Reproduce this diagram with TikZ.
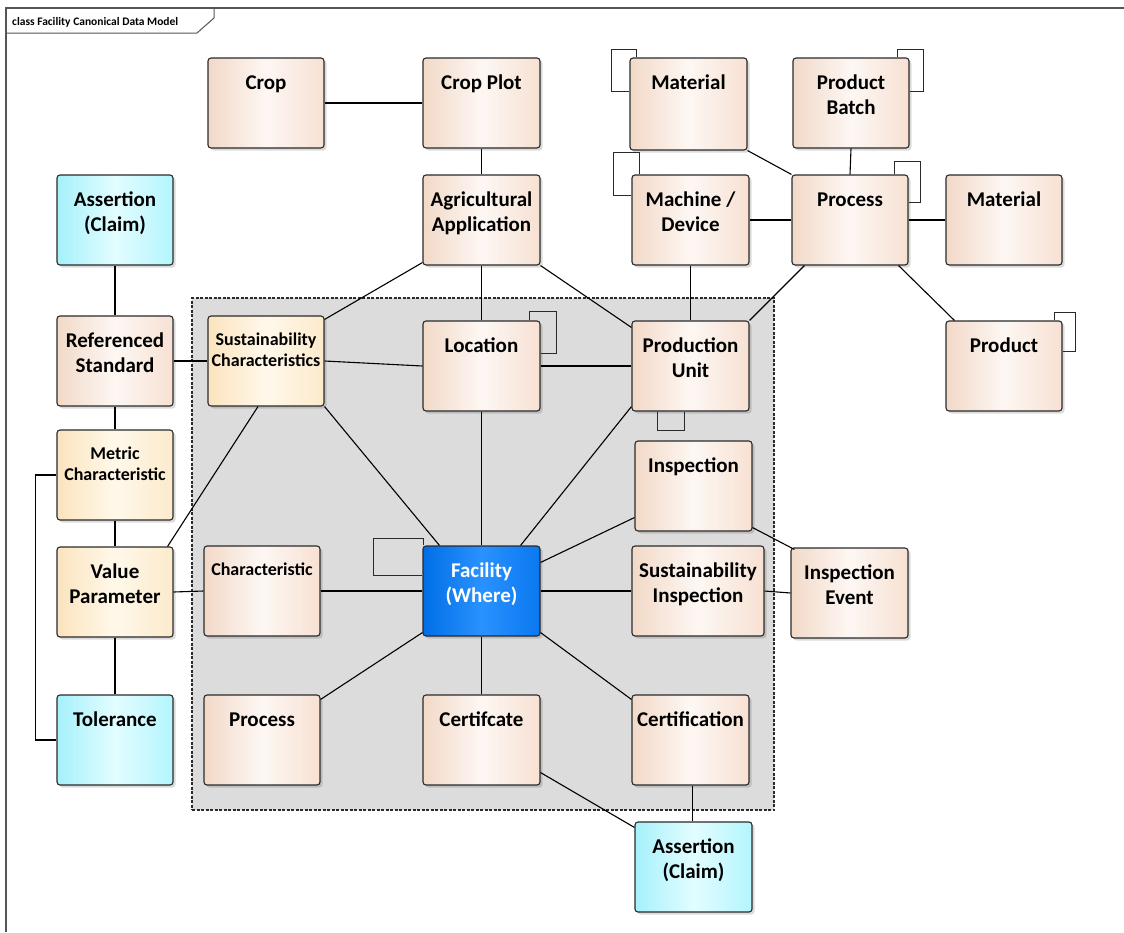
\documentclass[tikz,border=0pt]{standalone}
\usepackage{fontspec}
\setmainfont{Carlito}
\usetikzlibrary{shadows,calc}

\definecolor{peachA}{HTML}{F2D9C8}
\definecolor{peachB}{HTML}{F7E1D3}
\definecolor{peachM}{HTML}{FDF7F3}
\definecolor{cyanA}{HTML}{A6F1FB}
\definecolor{cyanB}{HTML}{B4F5FE}
\definecolor{cyanM}{HTML}{E2FDFF}
\definecolor{yelA}{HTML}{FBE4BE}
\definecolor{yelB}{HTML}{FCEACB}
\definecolor{yelM}{HTML}{FFF8EA}
\definecolor{blueA}{HTML}{006EE6}
\definecolor{blueB}{HTML}{0A78F0}
\definecolor{blueM}{HTML}{2A92FF}
\definecolor{grpfill}{HTML}{DCDCDC}
\definecolor{edgec}{HTML}{2A2A2A}
\definecolor{framec}{HTML}{555555}

\tikzset{
  umlbase/.style={draw=edgec, line width=1.1pt, rounded corners=3pt, inner sep=0pt,
    drop shadow={shadow xshift=2.5pt, shadow yshift=-2.5pt, fill=black, opacity=0.14}},
  peach/.style={umlbase, left color=peachA, right color=peachB, middle color=peachM},
  cyanbox/.style={umlbase, left color=cyanA, right color=cyanB, middle color=cyanM},
  yelbox/.style={umlbase, left color=yelA, right color=yelB, middle color=yelM},
  bluebox/.style={umlbase, left color=blueA, right color=blueB, middle color=blueM},
  bigl/.style={font=\bfseries\fontsize{21}{25}\selectfont, align=center, text=black,
    inner sep=0pt, anchor=north, yshift=-17pt},
  bigw/.style={bigl, text=white},
  smalll/.style={font=\bfseries\fontsize{18}{21}\selectfont, align=center, text=black,
    inner sep=0pt, anchor=north, yshift=-15pt},
  conn/.style={draw=black, line width=1.1pt},
  loopline/.style={draw=edgec, line width=1.1pt},
}

\newcommand\umlbox[8]{%
  \node[#6, minimum width={(#4)-(#2)}, minimum height={(#5)-(#3)},
    label={[#7, name=#1-txt]north:\rule{0pt}{15pt}#8}] (#1) at ({((#2)+(#4))/2},{((#3)+(#5))/2}) {};}

\begin{document}
\begin{tikzpicture}[x=1pt, y=-1pt]
\useasboundingbox (0,0) rectangle (1124,932);
\fill[white] (0,0) rectangle (1124,932);

% frame
\draw[framec, line width=1.3pt] (6,932) -- (6,8) -- (1124,8);
\draw[framec, line width=1pt] (6,33) -- (197,33) -- (214,18) -- (214,8);
\node[anchor=base west, inner sep=0pt, font=\bfseries\fontsize{11.5}{13}\selectfont] (title) at (12,25) {class Facility Canonical Data Model};

% group
\node[draw=edgec, fill=grpfill, line width=1.1pt, dash pattern=on 3pt off 1.5pt,
  minimum width=582pt, minimum height=512pt, inner sep=0pt] (grp) at (483,554) {};

% boxes
\umlbox{crop}{208}{58}{324}{148}{peach}{bigl}{Crop}
\umlbox{cplot}{423}{58}{540}{148}{peach}{bigl}{Crop Plot}
\umlbox{mat1}{630}{58}{747}{150}{peach}{bigl}{Material}
\umlbox{pb}{793}{58}{909}{148}{peach}{bigl}{Product\\Batch}
\umlbox{asr1}{57}{175}{173}{265}{cyanbox}{bigl}{Assertion\\(Claim)}
\umlbox{agri}{423}{175}{540}{265}{peach}{bigl}{Agricultural\\Application}
\umlbox{mach}{632}{175}{749}{265}{peach}{bigl}{Machine /\\Device}
\umlbox{proc}{792}{175}{908}{265}{peach}{bigl}{Process}
\umlbox{mat2}{946}{175}{1062}{265}{peach}{bigl}{Material}
\umlbox{ref}{57}{316}{173}{406}{peach}{bigl}{Referenced\\Standard}
\umlbox{sc}{208}{316}{324}{406}{yelbox}{smalll}{Sustainability\\Characteristics}
\umlbox{loc}{423}{321}{540}{411}{peach}{bigl}{Location}
\umlbox{pu}{632}{321}{749}{411}{peach}{bigl}{Production\\Unit}
\umlbox{prod}{946}{321}{1062}{411}{peach}{bigl}{Product}
\umlbox{met}{57}{430}{173}{520}{yelbox}{smalll}{Metric\\Characteristic}
\umlbox{insp}{635}{441}{752}{531}{peach}{bigl}{Inspection}
\umlbox{vp}{57}{547}{173}{637}{yelbox}{bigl}{Value\\Parameter}
\umlbox{chr}{204}{546}{320}{636}{peach}{smalll}{Characteristic}
\umlbox{fac}{423}{546}{540}{636}{bluebox}{bigw}{Facility\\(Where)}
\umlbox{sinsp}{632}{546}{764}{636}{peach}{bigl}{Sustainability\\Inspection}
\umlbox{iev}{791}{548}{908}{638}{peach}{bigl}{Inspection\\Event}
\umlbox{tol}{57}{695}{173}{785}{cyanbox}{bigl}{Tolerance}
\umlbox{proc2}{204}{695}{320}{785}{peach}{bigl}{Process}
\umlbox{cert}{423}{695}{540}{785}{peach}{bigl}{Certifcate}
\umlbox{certn}{632}{695}{749}{785}{peach}{bigl}{Certification}
\umlbox{asr2}{635}{822}{752}{912}{cyanbox}{bigl}{Assertion\\(Claim)}

% self loops
\draw[loopline] ([xshift=7pt]mat1.north west) -- ++(0,-8) -- ++(-25,0) -- ++(0,42) -- ++(18,0);
\draw[loopline] ([xshift=8pt]mach.north west) -- ++(0,-22) -- ++(-26,0) -- ++(0,43) -- ++(18,0);
\draw[loopline] ([xshift=-12pt]pb.north east) -- ++(0,-8) -- ++(26,0) -- ++(0,42) -- ++(-14,0);
\draw[loopline] ([xshift=-14pt]proc.north east) -- ++(0,-13) -- ++(26,0) -- ++(0,41) -- ++(-12,0);
\draw[loopline] ([xshift=-11pt]loc.north east) -- ++(0,-9) -- ++(27,0) -- ++(0,42) -- ++(-16,0);
\draw[loopline] ([xshift=-8pt]prod.north east) -- ++(0,-8) -- ++(21,0) -- ++(0,39) -- ++(-13,0);
\draw[loopline] ([xshift=26pt]pu.south west) -- ++(0,19) -- ++(27,0) -- ++(0,-19);
\draw[loopline] ([xshift=1pt]fac.north west) -- ++(0,-7) -- ++(-50,0) -- ++(0,37) -- ++(49,0);

% connectors
\draw[conn] (crop.east) -- (cplot.west);
\draw[conn] (cplot.south) -- (agri.north);
\draw[conn] (mat1.south east) -- (proc.north west);
\draw[conn] (pb.south) -- (proc.north);
\draw[conn] (mach.east) -- (proc.west);
\draw[conn] (proc.east) -- (mat2.west);
\draw[conn] ([xshift=-10pt]proc.south east) -- ([xshift=9pt]prod.north west);
\draw[conn] ([xshift=13pt]proc.south west) -- (pu.north east);
\draw[conn] (mach.south) -- (pu.north);
\draw[conn] (agri.south east) -- ([yshift=-7pt]pu.north west);
\draw[conn] (agri.south) -- (loc.north);
\draw[conn] ([yshift=3pt]agri.south west) -- ([yshift=-4pt]sc.north east);
\draw[conn] (asr1.south) -- (ref.north);
\draw[conn] (ref.east) -- (sc.west);
\draw[conn] (ref.south) -- (met.north);
\draw[conn] (met.south) -- (vp.north);
\draw[conn] (vp.south) -- (tol.north);
\draw[conn] (met.west) -- ++(-21,0) |- (tol.west);
\draw[conn] ([xshift=-6pt]vp.north east) -- ([xshift=-8pt]sc.south);
\draw[conn] (vp.east) -- (chr.west);
\draw[conn] (sc.east) -- (loc.west);
\draw[conn] (sc.south east) -- ([xshift=17pt]fac.north west);
\draw[conn] (loc.east) -- (pu.west);
\draw[conn] (loc.south) -- (fac.north);
\draw[conn] ([yshift=5pt]pu.south west) -- ([xshift=-20pt]fac.north east);
\draw[conn] ([yshift=14pt]insp.south west) -- ([yshift=-17pt]fac.north east);
\draw[conn] ([yshift=4pt]insp.south east) -- ([xshift=4pt,yshift=-2pt]iev.north west);
\draw[conn] (sinsp.east) -- (iev.west);
\draw[conn] (fac.east) -- (sinsp.west);
\draw[conn] (chr.east) -- (fac.west);
\draw[conn] ([yshift=4pt]fac.south west) -- ([yshift=-5pt]proc2.north east);
\draw[conn] (fac.south) -- (cert.north);
\draw[conn] ([yshift=4pt]fac.south east) -- ([yshift=-5pt]certn.north west);
\draw[conn] ([yshift=13pt]cert.south east) -- ([yshift=-6pt]asr2.north west);
\draw[conn] ([xshift=2pt]certn.south) -- ([xshift=-1pt]asr2.north);
\end{tikzpicture}
\end{document}
